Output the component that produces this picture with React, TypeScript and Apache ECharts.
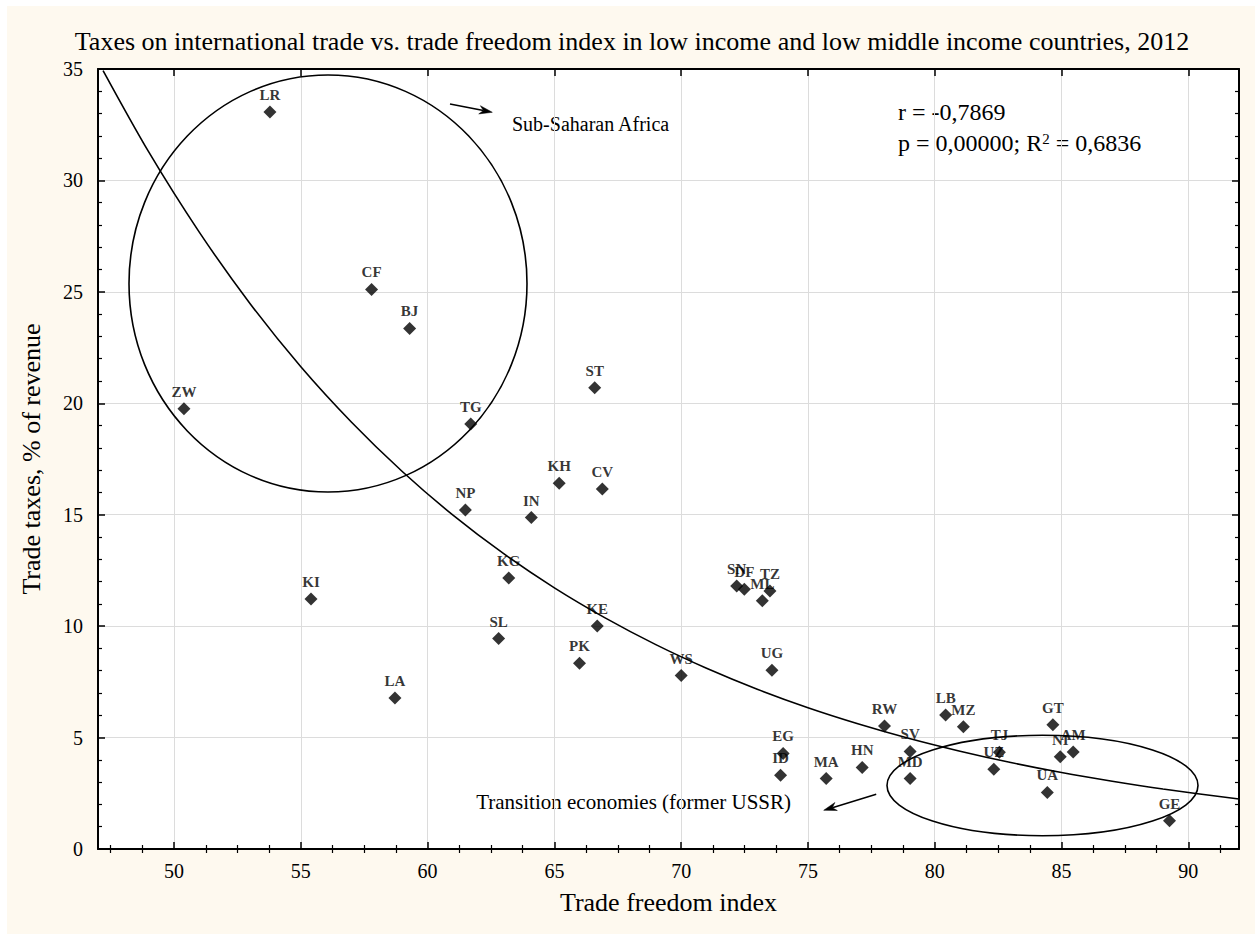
import React, { useEffect, useRef } from "react";
import * as echarts from "echarts";

const FONT = "'Liberation Serif', 'Times New Roman', serif";

const TITLE = "Taxes on international trade vs. trade freedom index in low income and low middle income countries, 2012";
const X_NAME = "Trade freedom index";
const Y_NAME = "Trade taxes, % of revenue";

const X_TICKS = [50, 55, 60, 65, 70, 75, 80, 85, 90];
const Y_TICKS = [0, 5, 10, 15, 20, 25, 30, 35];

const NAMES = ["LR", "CF", "BJ", "ZW", "TG", "ST", "KH", "CV", "NP", "IN", "KG", "KI", "SL", "KE", "PK", "LA", "WS", "SN", "DF", "ML", "TZ", "UG", "EG", "ID", "MA", "HN", "RW", "SV", "MD", "LB", "MZ", "TJ", "UZ", "GT", "NI", "AM", "UA", "GE"];
const FREEDOM = [53.78, 57.79, 59.29, 50.39, 61.70, 66.59, 65.19, 66.89, 61.49, 64.09, 63.20, 55.40, 62.80, 66.69, 65.99, 58.71, 70.00, 72.19, 72.49, 73.20, 73.50, 73.58, 74.02, 73.92, 75.72, 77.14, 78.02, 79.03, 79.03, 80.43, 81.13, 82.55, 82.33, 84.66, 84.95, 85.46, 84.44, 89.26];
const TAXES = [33.07, 25.11, 23.36, 19.76, 19.07, 20.70, 16.41, 16.15, 15.21, 14.87, 12.16, 11.22, 9.44, 10.01, 8.33, 6.78, 7.78, 11.80, 11.65, 11.14, 11.58, 8.02, 4.29, 3.31, 3.16, 3.66, 5.52, 4.38, 3.16, 6.01, 5.49, 4.34, 3.58, 5.58, 4.14, 4.35, 2.54, 1.27];

// fitted curve
const CURVE_X = [47.2, 49, 51, 53, 55, 57, 59, 61, 63, 65, 67, 69, 71, 73, 75, 77, 79, 81, 83, 85, 87, 89, 92];
const CURVE_Y = [34.93, 31.28, 27.67, 24.47, 21.64, 19.15, 16.94, 14.98, 13.25, 11.72, 10.37, 9.17, 8.11, 7.17, 6.34, 5.61, 4.96, 4.39, 3.88, 3.43, 3.04, 2.69, 2.24];

const STAT_R = "r = -0,7869";
const STAT_P = "p = 0,00000; R{sup|2} = 0,6836";
const NOTE_SSA = "Sub-Saharan Africa";
const NOTE_TR = "Transition economies (former USSR)";

const X_MIN = 47;
const X_MAX = 92;

function minorTicks(): number[] {
  const out: number[] = [];
  for (let v = 47.5; v < X_MAX; v += 1.25) {
    if (Math.abs(v / 5 - Math.round(v / 5)) > 1e-6) out.push(v);
  }
  return out;
}

function arrow(tail: number[], tip: number[]) {
  const dx = tip[0] - tail[0];
  const dy = tip[1] - tail[1];
  const len = Math.hypot(dx, dy);
  const ux = dx / len, uy = dy / len;
  const px = -uy, py = ux;
  const hl = 13, hw = 4.2, notch = 9;
  const bx = tip[0] - ux * hl, by = tip[1] - uy * hl;
  const nx = tip[0] - ux * notch, ny = tip[1] - uy * notch;
  return [
    { type: "line", shape: { x1: tail[0], y1: tail[1], x2: nx, y2: ny }, style: { stroke: "#000", lineWidth: 1.5 } },
    {
      type: "polygon",
      shape: { points: [tip, [bx + px * hw, by + py * hw], [nx, ny], [bx - px * hw, by - py * hw]] },
      style: { fill: "#000", stroke: "#000", lineWidth: 0.5 },
    },
  ];
}

export default function App() {
  const ref = useRef<HTMLDivElement>(null);
  useEffect(() => {
    const chart = echarts.init(ref.current!, undefined, { renderer: "svg" });
    const minor = minorTicks();
    const baseX = {
      type: "value",
      min: X_MIN,
      max: X_MAX,
      axisLine: { show: false },
      splitLine: { show: false },
      axisLabel: { show: false },
    };
    const option: any = {
      animation: false,
      backgroundColor: "transparent",
      textStyle: { fontFamily: FONT },
      title: {
        text: TITLE,
        left: 627,
        textAlign: "center",
        top: 23,
        textStyle: { fontFamily: FONT, fontSize: 26, fontWeight: "normal", color: "#000" },
      },
      grid: {
        left: 98, right: 21, top: 69, bottom: 85,
        show: true, backgroundColor: "#fff", borderWidth: 0,
      },
      xAxis: [
        {
          ...baseX,
          position: "bottom",
          name: X_NAME,
          nameLocation: "middle",
          nameGap: 40,
          nameTextStyle: { fontFamily: FONT, fontSize: 26, color: "#000" },
          axisLine: { show: true, onZero: false, lineStyle: { color: "#000", width: 2 } },
          axisTick: { show: true, inside: true, length: 7, customValues: X_TICKS, lineStyle: { color: "#000", width: 1.5 } },
          axisLabel: { show: true, customValues: X_TICKS, margin: 12, fontFamily: FONT, fontSize: 20, color: "#000" },
          splitLine: { show: true, lineStyle: { color: "#dcdcdc", width: 1 } },
        },
        {
          ...baseX,
          position: "bottom",
          axisTick: { show: true, inside: true, length: 4, customValues: minor, lineStyle: { color: "#000", width: 1.2 } },
        },
        {
          ...baseX,
          position: "top",
          axisLine: { show: true, onZero: false, lineStyle: { color: "#000", width: 2 } },
          axisTick: { show: true, inside: true, length: 7, customValues: X_TICKS, lineStyle: { color: "#000", width: 1.5 } },
        },
        {
          ...baseX,
          position: "top",
          axisTick: { show: true, inside: true, length: 4, customValues: minor, lineStyle: { color: "#000", width: 1.2 } },
        },
      ],
      yAxis: [
        {
          type: "value",
          min: Y_TICKS[0],
          max: Y_TICKS[Y_TICKS.length - 1],
          interval: 5,
          position: "left",
          name: Y_NAME,
          nameLocation: "middle",
          nameGap: 54,
          nameRotate: 90,
          nameTextStyle: { fontFamily: FONT, fontSize: 26, color: "#000" },
          axisLine: { show: true, onZero: false, lineStyle: { color: "#000", width: 2 } },
          axisTick: { show: true, inside: true, length: 7, lineStyle: { color: "#000", width: 1.5 } },
          minorTick: { show: true, splitNumber: 5, length: 4, lineStyle: { color: "#000", width: 1.2 } },
          axisLabel: { margin: 15, fontFamily: FONT, fontSize: 20, color: "#000" },
          splitLine: { show: true, lineStyle: { color: "#dcdcdc", width: 1 } },
        },
        {
          type: "value",
          min: Y_TICKS[0],
          max: Y_TICKS[Y_TICKS.length - 1],
          interval: 5,
          position: "right",
          axisLine: { show: true, onZero: false, lineStyle: { color: "#000", width: 2 } },
          axisTick: { show: true, inside: true, length: 7, lineStyle: { color: "#000", width: 1.5 } },
          minorTick: { show: true, splitNumber: 5, length: 4, lineStyle: { color: "#000", width: 1.2 } },
          axisLabel: { show: false },
          splitLine: { show: false },
        },
      ],
      series: [
        {
          type: "line",
          xAxisIndex: 0,
          yAxisIndex: 0,
          data: CURVE_X.map((x, i) => [x, CURVE_Y[i]]),
          showSymbol: false,
          smooth: 0.3,
          clip: true,
          lineStyle: { color: "#000", width: 1.6 },
          silent: true,
          z: 3,
        },
        {
          type: "scatter",
          xAxisIndex: 0,
          yAxisIndex: 0,
          symbol: "diamond",
          symbolSize: 13,
          itemStyle: { color: "#000" },
          data: NAMES.map((n, i) => ({ name: n, value: [FREEDOM[i], TAXES[i]] })),
          label: {
            show: true,
            position: "top",
            distance: 3,
            formatter: "{b}",
            fontFamily: FONT,
            fontSize: 15,
            fontWeight: "bold",
            color: "#000",
          },
          z: 4,
        },
      ],
      graphic: [
        { type: "ellipse", shape: { cx: 328, cy: 283.5, rx: 199, ry: 208.5 }, style: { fill: "none", stroke: "#000", lineWidth: 1.6 }, z: 5 },
        { type: "ellipse", shape: { cx: 1042.5, cy: 785.5, rx: 155.5, ry: 50.2 }, style: { fill: "none", stroke: "#000", lineWidth: 1.6 }, z: 5 },
        ...arrow([450, 104], [492.3, 112.3]),
        ...arrow([876.2, 794.3], [823.7, 810.3]),
        { type: "text", x: 512, y: 124, style: { text: NOTE_SSA, fontSize: 20, fontFamily: FONT, fill: "#000", verticalAlign: "middle", align: "left" } },
        { type: "text", x: 791, y: 802, style: { text: NOTE_TR, fontSize: 21, fontFamily: FONT, fill: "#000", verticalAlign: "middle", align: "right" } },
        { type: "text", x: 898, y: 112, style: { text: STAT_R, fontSize: 24, fontFamily: FONT, fill: "#000", verticalAlign: "middle", align: "left" } },
        {
          type: "text", x: 898, y: 143,
          style: {
            text: STAT_P, fontSize: 24, fontFamily: FONT, fill: "#000", verticalAlign: "middle", align: "left",
            rich: { sup: { fontSize: 15, fontFamily: FONT, fill: "#000", verticalAlign: "top", lineHeight: 24 } },
          },
        },
      ],
    };
    chart.setOption(option);
    return () => chart.dispose();
  }, []);
  return (
    <div style={{ position: "fixed", left: 0, top: 0, width: 1260, height: 934, background: "#fff" }}>
      <div style={{ position: "absolute", left: 7, top: 6, width: 1248, height: 928, background: "#FEF9EF" }} />
      <div ref={ref} style={{ position: "absolute", left: 0, top: 0, width: 1260, height: 934 }} />
    </div>
  );
}
